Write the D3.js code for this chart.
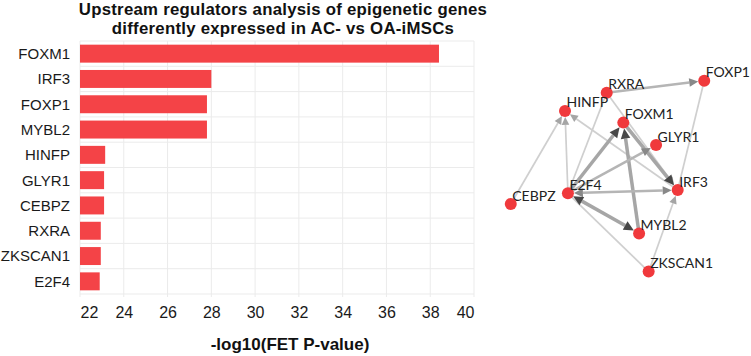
<!DOCTYPE html>
<html><head><meta charset="utf-8">
<script src="https://cdn.jsdelivr.net/npm/d3@7"></script>
<style>body{margin:0;background:#fff} svg{display:block}</style>
</head><body>
<svg id="c" width="751" height="356"></svg>
<script>
// ---- bar chart data ----
const categories = ["FOXM1","IRF3","FOXP1","MYBL2","HINFP","GLYR1","CEBPZ","RXRA","ZKSCAN1","E2F4"];
const values = [38.4, 28.0, 27.8, 27.8, 23.15, 23.1, 23.1, 22.95, 22.95, 22.9];
const xTicks = [22,24,26,28,30,32,34,36,38,40];
const titleLines = ["Upstream regulators analysis of epigenetic genes","differently expressed in AC- vs OA-iMSCs"];
const xTitle = "-log10(FET P-value)";

// ---- network data (layout coordinates 0-100) ----
const nodeNames = ["FOXP1","RXRA","HINFP","FOXM1","GLYR1","IRF3","E2F4","CEBPZ","MYBL2","ZKSCAN1"];
const nodeX = [99.6, 49.6, 28.2, 58.1, 74.9, 86.0, 29.7, 0.4, 66.2, 71.1];
const nodeY = [0.4, 6.6, 16.1, 22.2, 33.9, 57.3, 59.0, 64.6, 79.9, 99.8];
const edgeSource = ["RXRA","IRF3","RXRA","RXRA","CEBPZ","E2F4","IRF3","E2F4","MYBL2","FOXM1","E2F4","E2F4","E2F4","ZKSCAN1","ZKSCAN1"];
const edgeTarget = ["FOXP1","FOXP1","IRF3","E2F4","HINFP","HINFP","HINFP","FOXM1","FOXM1","IRF3","GLYR1","IRF3","MYBL2","E2F4","IRF3"];
const edgeStrength = [2,1,1,1,1,1,1,3,3,3,2,2,3,1,1];
const edgeArrows = ["target","none","target","none","target","target","target","target","target","target","target","both","both","none","target"];

const svg = d3.select("#c");
const FONT = "'Liberation Sans', Arial, Helvetica, sans-serif";

// ---- bar chart ----
const x = d3.scaleLinear().domain([22, 40]).range([80, 474]);
const y = d3.scaleBand().domain(categories).range([41, 294]).paddingInner(0.29).paddingOuter(0.145);
const grid = svg.append("g");
grid.selectAll("line.v").data(xTicks).join("line")
  .attr("x1", d => x(d)).attr("x2", d => x(d)).attr("y1", 41).attr("y2", 297)
  .attr("stroke", "#ebebeb").attr("stroke-width", 1);
const bounds = categories.map(c => y(c) - y.step()*y.paddingInner()/2);
bounds.push(294);
grid.selectAll("line.h").data(bounds).join("line")
  .attr("x1", 80).attr("x2", 474).attr("y1", d => d).attr("y2", d => d)
  .attr("stroke", "#ebebeb").attr("stroke-width", 1);

svg.append("g").selectAll("rect").data(categories).join("rect")
  .attr("x", x(22)).attr("y", d => y(d))
  .attr("width", (d, i) => x(values[i]) - x(22)).attr("height", y.bandwidth())
  .attr("fill", "#f44347");

svg.append("g").selectAll("text").data(categories).join("text")
  .attr("x", 70).attr("y", d => y(d) + y.bandwidth()/2).attr("dy", "0.36em")
  .attr("text-anchor", "end").attr("font-family", FONT).attr("font-size", 15)
  .attr("fill", "#1a1a1a").text(d => d);

const xAxis = d3.axisBottom(x).tickValues(xTicks).tickSize(0).tickPadding(0);
const gx = svg.append("g").attr("transform", "translate(0,306)").call(xAxis);
gx.select(".domain").remove();
gx.selectAll("text").attr("font-family", FONT).attr("font-size", 16).attr("fill", "#1a1a1a").attr("dy", "0.75em")
  .attr("text-anchor", (d, i) => i === 0 ? "start" : (i === xTicks.length - 1 ? "end" : "middle"));

svg.append("text").attr("x", 290).attr("y", 350).attr("text-anchor", "middle")
  .attr("font-family", FONT).attr("font-size", 17).attr("font-weight", "bold").attr("fill", "#111")
  .text(xTitle);

svg.append("g").selectAll("text").data(titleLines).join("text")
  .attr("x", 283).attr("y", (d, i) => 14.5 + i*19).attr("text-anchor", "middle")
  .attr("font-family", FONT).attr("font-size", 16.8).attr("letter-spacing", 0.25)
  .attr("font-weight", "bold").attr("fill", "#111")
  .text(d => d);

// ---- network ----
const nx = d3.scaleLinear().domain([0, 100]).range([510, 705]);
const ny = d3.scaleLinear().domain([0, 100]).range([80, 272]);
const pos = {};
nodeNames.forEach((n, i) => pos[n] = {x: nx(nodeX[i]), y: ny(nodeY[i])});
const R = 6;
const lineColor = {1: "#cfcfcf", 2: "#b5b5b5", 3: "#a6a6a6"};
const lineWidth = {1: 1.7, 2: 2.5, 3: 3.5};
const headColor = {1: "#a5a5a5", 2: "#888888", 3: "#474747"};
const headLen = {1: 8, 2: 9, 3: 10};
const headHalf = {1: 3.8, 2: 4.3, 3: 4.8};

const eg = svg.append("g");
const hg = svg.append("g");
edgeSource.forEach((s, i) => {
  const a = pos[s], b = pos[edgeTarget[i]], k = edgeStrength[i], arr = edgeArrows[i];
  const dx = b.x - a.x, dy = b.y - a.y, L = Math.hypot(dx, dy), ux = dx / L, uy = dy / L;
  let x1 = a.x, y1 = a.y, x2 = b.x, y2 = b.y;
  const head = (tx, ty, vx, vy) => {
    const bx = tx - vx * headLen[k], by = ty - vy * headLen[k];
    const px = -vy * headHalf[k], py = vx * headHalf[k];
    hg.append("path").attr("d", `M${tx},${ty}L${bx+px},${by+py}L${bx-px},${by-py}Z`).attr("fill", headColor[k]);
    return [bx, by];
  };
  if (arr === "target" || arr === "both") {
    const r = head(b.x - ux * R, b.y - uy * R, ux, uy); x2 = r[0]; y2 = r[1];
  }
  if (arr === "both") {
    const r = head(a.x + ux * R, a.y + uy * R, -ux, -uy); x1 = r[0]; y1 = r[1];
  }
  eg.append("line").attr("x1", x1).attr("y1", y1).attr("x2", x2).attr("y2", y2)
    .attr("stroke", lineColor[k]).attr("stroke-width", lineWidth[k]);
});

svg.append("g").selectAll("circle").data(nodeNames).join("circle")
  .attr("cx", d => pos[d].x).attr("cy", d => pos[d].y).attr("r", R).attr("fill", "#f0393c");
svg.append("g").selectAll("text").data(nodeNames).join("text")
  .attr("x", d => pos[d].x + 1.5).attr("y", d => pos[d].y - 3.5)
  .attr("font-family", "Lato, sans-serif").attr("font-size", 14).attr("fill", "#222")
  .text(d => d);
</script>
</body></html>
